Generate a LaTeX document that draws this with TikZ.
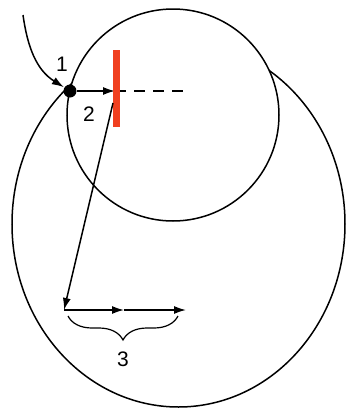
\documentclass[tikz,border=0pt]{standalone}
\usepackage{fontspec}
\setmainfont{Liberation Sans}
\usetikzlibrary{arrows.meta,decorations.pathreplacing}
\definecolor{barred}{RGB}{240,64,32}

\begin{document}
\begin{tikzpicture}[x=1pt, y=-1pt, line width=1.5pt,
    arr/.style={-{Latex[length=12pt,width=8pt]}},
    lbl/.style={font=\fontsize{21}{23}\selectfont, inner sep=0pt}]
    \useasboundingbox (0,0) rectangle (347,408);
    \draw (178.5,224) ellipse (166.5 and 183);
    \draw[fill=white] (173,115) circle (106);
    \coordinate (in) at (23,15); \node[circle, fill, inner sep=0pt, minimum size=13pt] (p1) at (70,91) {};
    \coordinate (hit) at (115,91); \coordinate (far) at (184,91);
    \coordinate (top) at (113,103); \coordinate (A) at (64,310);
    \coordinate (B) at (124,310); \coordinate (C) at (186,310);
    \draw[arr] (in) to[out=-82, in=148] (p1);
    \draw[arr] (p1) -- (hit);
    \draw[dash pattern=on 11pt off 8pt] (hit) -- (far);
    \draw[barred, line width=7pt] (116,50) -- (116,127);
    \draw[arr] (top) -- (A);
    \draw[arr] (A) -- (B); \draw[arr] (B) -- (C);
    \draw[line width=1.2pt, decorate, decoration={brace, mirror, amplitude=24pt, aspect=0.5}] (68,316) -- (178,316);
    \node[lbl] (n1) at (62,64) {1}; \node[lbl] (n2) at (89,114) {2}; \node[lbl] (n3) at (123,359) {3};
\end{tikzpicture}
\end{document}
